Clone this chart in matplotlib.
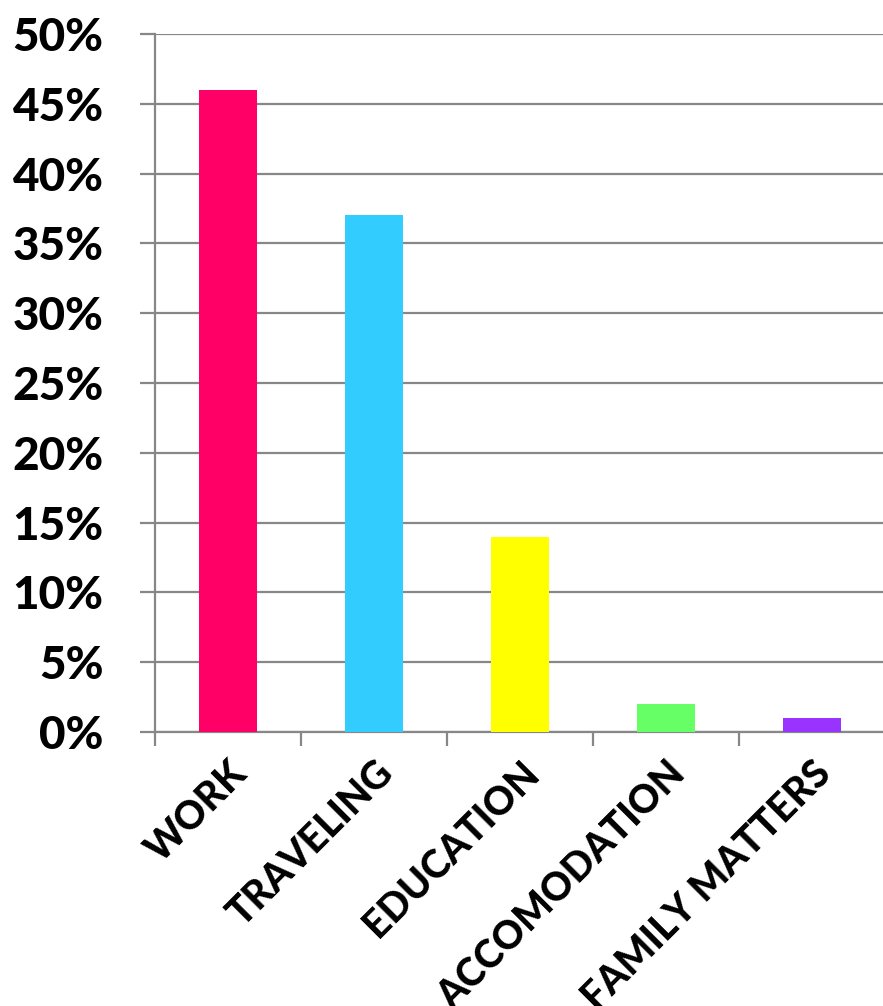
import matplotlib.pyplot as plt
import numpy as np
from matplotlib.ticker import FuncFormatter, MultipleLocator

categories = ["WORK", "TRAVELING", "EDUCATION", "ACCOMODATION", "FAMILY MATTERS"]
shares = [46, 37, 14, 2, 1]
bar_colors = ["#FF0066", "#33CCFF", "#FFFF00", "#66FF66", "#9933FF"]

grid_gray = "#878787"
font_name = "Lato"

fig = plt.figure(figsize=(8.83, 10.06), dpi=100)
ax = fig.add_axes([155 / 883, 274 / 1006, 730 / 883, 698 / 1006])

x = np.arange(len(categories))
ax.bar(x, shares, width=0.4, color=bar_colors, zorder=3)

ax.set_xlim(-0.5, len(categories) - 0.5)
ax.set_ylim(0, 50)
ax.yaxis.set_major_locator(MultipleLocator(5))
ax.yaxis.set_major_formatter(FuncFormatter(lambda v, p: f"{v:.0f}%"))
ax.yaxis.grid(True, color=grid_gray, linewidth=1.6, zorder=0)

# category ticks sit between the bars
ax.set_xticks(np.arange(len(categories) + 1) - 0.5)
ax.set_xticklabels([])
ax.set_xticks(x, minor=True)
ax.set_xticklabels(categories, minor=True, rotation=45, ha="right",
                   rotation_mode="anchor", fontsize=28, fontweight=900,
                   fontname=font_name)
ax.tick_params(axis="x", which="minor", length=0, pad=16)
ax.tick_params(axis="x", which="major", length=10, width=1.6, color=grid_gray)
ax.tick_params(axis="y", length=11, width=1.6, color=grid_gray, pad=26)
for lbl in ax.get_yticklabels():
    lbl.set_fontsize(33)
    lbl.set_fontweight(900)
    lbl.set_fontname(font_name)

for side in ["top", "right"]:
    ax.spines[side].set_visible(False)
for side in ["left", "bottom"]:
    ax.spines[side].set_color(grid_gray)
    ax.spines[side].set_linewidth(1.6)

fig.savefig("out.png", dpi=100)
